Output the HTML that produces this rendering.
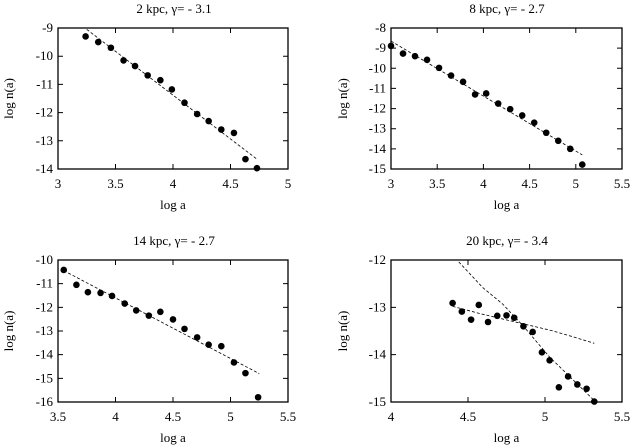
<!DOCTYPE html>
<html><head><meta charset="utf-8"><style>
html,body{margin:0;padding:0;background:#fff;}
svg{display:block;font-family:"Liberation Serif",serif;font-size:13px;}
</style></head><body>
<svg id="chart" width="632" height="448" viewBox="0 0 632 448" xmlns="http://www.w3.org/2000/svg"></svg>
<script>
// Panel 1: 2 kpc
const p1X = [3.24,3.35,3.46,3.57,3.67,3.78,3.89,3.99,4.10,4.21,4.31,4.42,4.53,4.63,4.73];
const p1Y = [-9.3,-9.5,-9.7,-10.15,-10.35,-10.68,-10.85,-11.18,-11.65,-12.05,-12.3,-12.6,-12.72,-13.65,-13.97];
const p1FitX = [3.25,4.73];
const p1FitY = [-9.05,-13.65];
const p1XTicks = [3,3.5,4,4.5,5];
const p1YTicks = [-9,-10,-11,-12,-13,-14];
// Panel 2: 8 kpc
const p2X = [3.0,3.13,3.26,3.39,3.52,3.65,3.78,3.91,4.03,4.16,4.29,4.42,4.55,4.68,4.81,4.94,5.07];
const p2Y = [-8.89,-9.27,-9.4,-9.58,-9.98,-10.36,-10.67,-11.3,-11.25,-11.75,-12.03,-12.34,-12.7,-13.2,-13.6,-14.0,-14.78];
const p2FitX = [3.0,5.07];
const p2FitY = [-8.65,-14.3];
const p2XTicks = [3,3.5,4,4.5,5,5.5];
const p2YTicks = [-8,-9,-10,-11,-12,-13,-14,-15];
// Panel 3: 14 kpc
const p3X = [3.55,3.66,3.76,3.87,3.97,4.08,4.18,4.29,4.39,4.50,4.60,4.71,4.81,4.92,5.03,5.13,5.24];
const p3Y = [-10.42,-11.05,-11.36,-11.39,-11.52,-11.84,-12.13,-12.35,-12.19,-12.51,-12.91,-13.27,-13.58,-13.64,-14.33,-14.78,-15.8];
const p3FitX = [3.55,5.25];
const p3FitY = [-10.45,-14.8];
const p3XTicks = [3.5,4,4.5,5,5.5];
const p3YTicks = [-10,-11,-12,-13,-14,-15,-16];
// Panel 4: 20 kpc
const p4X = [4.40,4.46,4.52,4.57,4.63,4.69,4.75,4.80,4.86,4.92,4.98,5.03,5.09,5.15,5.21,5.27,5.32];
const p4Y = [-12.91,-13.09,-13.26,-12.95,-13.31,-13.18,-13.17,-13.22,-13.40,-13.52,-13.95,-14.12,-14.69,-14.46,-14.63,-14.72,-14.99];
const p4FitAX = [4.40,4.6,4.86,5.03,5.18,5.32];
const p4FitAY = [-12.98,-13.15,-13.35,-13.48,-13.62,-13.76];
const p4FitBX = [4.44,4.595,4.725,4.86,5.03,5.32];
const p4FitBY = [-12.04,-12.58,-12.93,-13.4,-14.05,-14.97];
const p4XTicks = [4,4.5,5,5.5];
const p4YTicks = [-12,-13,-14,-15];

const NS = 'http://www.w3.org/2000/svg';
const svg = document.getElementById('chart');
function mk(tag, attrs, parent){const e=document.createElementNS(NS,tag);for(const k in attrs)e.setAttribute(k,attrs[k]);(parent||svg).appendChild(e);return e;}

function panel(cfg){
  const g = mk('g',{});
  
  
  const L=cfg.box[0],T=cfg.box[1],R=cfg.box[2],B=cfg.box[3];
  const sx = v => L + (v-cfg.xr[0])/(cfg.xr[1]-cfg.xr[0])*(R-L);
  const sy = v => T + (cfg.yr[1]-v)/(cfg.yr[1]-cfg.yr[0])*(B-T);
  cfg.xt.forEach(t=>{
    const x=sx(t);
    const tk=mk('path',{d:`M${x},${B}v-5M${x},${T}v5`,stroke:'#000','stroke-width':1,fill:'none'},g);
    
    
    const tl=mk('text',{x:x,y:B+19,'text-anchor':'middle'},g);
    tl.textContent=String(t);
    
    
  });
  cfg.yt.forEach(t=>{
    const y=sy(t);
    const tk=mk('path',{d:`M${L},${y}h5M${R},${y}h-5`,stroke:'#000','stroke-width':1,fill:'none'},g);
    
    
    const tl=mk('text',{x:L-5,y:y+4,'text-anchor':'end'},g);
    tl.textContent=String(t);
    
    
  });
  cfg.fits.forEach(f=>{
    const d=f[0].map((v,i)=>(i?'L':'M')+sx(v)+','+sy(f[1][i])).join('');
    const p=mk('path',{d:d,stroke:'#000','stroke-width':0.8,fill:'none','stroke-dasharray':'3,2'},g);
    
    
  });
  cfg.px.forEach((v,i)=>{
    const c=mk('circle',{cx:sx(v),cy:sy(cfg.py[i]),r:3.3,fill:'#000'},g);
    
    
  });
  const fr=mk('rect',{x:L,y:T,width:R-L,height:B-T,fill:'none',stroke:'#000','stroke-width':1.3},g);
  
  
  const ti=mk('text',{x:cfg.tx,y:T-15,'text-anchor':'middle'},g);
  ti.textContent=cfg.title;
  
  
  const xl=mk('text',{x:(L+R)/2,y:B+40,'text-anchor':'middle'},g);
  xl.textContent='log a';
  
  
  const yx=cfg.ylx, yy=(T+B)/2;
  const yl=mk('text',{x:yx,y:yy,'text-anchor':'middle',transform:`rotate(-90 ${yx} ${yy})`},g);
  yl.textContent='log n(a)';
  
  
}

panel({name:'panel-2kpc',box:[58,28,288,169],xr:[3,5],yr:[-14,-9],xt:p1XTicks,yt:p1YTicks,fits:[[p1FitX,p1FitY]],px:p1X,py:p1Y,title:'2 kpc, γ= - 3.1',tx:174,ylx:13});
panel({name:'panel-8kpc',box:[391,28,622,169],xr:[3,5.5],yr:[-15,-8],xt:p2XTicks,yt:p2YTicks,fits:[[p2FitX,p2FitY]],px:p2X,py:p2Y,title:'8 kpc, γ= - 2.7',tx:507,ylx:347});
panel({name:'panel-14kpc',box:[58,260,288,402],xr:[3.5,5.5],yr:[-16,-10],xt:p3XTicks,yt:p3YTicks,fits:[[p3FitX,p3FitY]],px:p3X,py:p3Y,title:'14 kpc, γ= - 2.7',tx:174,ylx:13});
panel({name:'panel-20kpc',box:[391,260,622,402],xr:[4,5.5],yr:[-15,-12],xt:p4XTicks,yt:p4YTicks,fits:[[p4FitAX,p4FitAY],[p4FitBX,p4FitBY]],px:p4X,py:p4Y,title:'20 kpc, γ= - 3.4',tx:507,ylx:347});
</script>
</body></html>
